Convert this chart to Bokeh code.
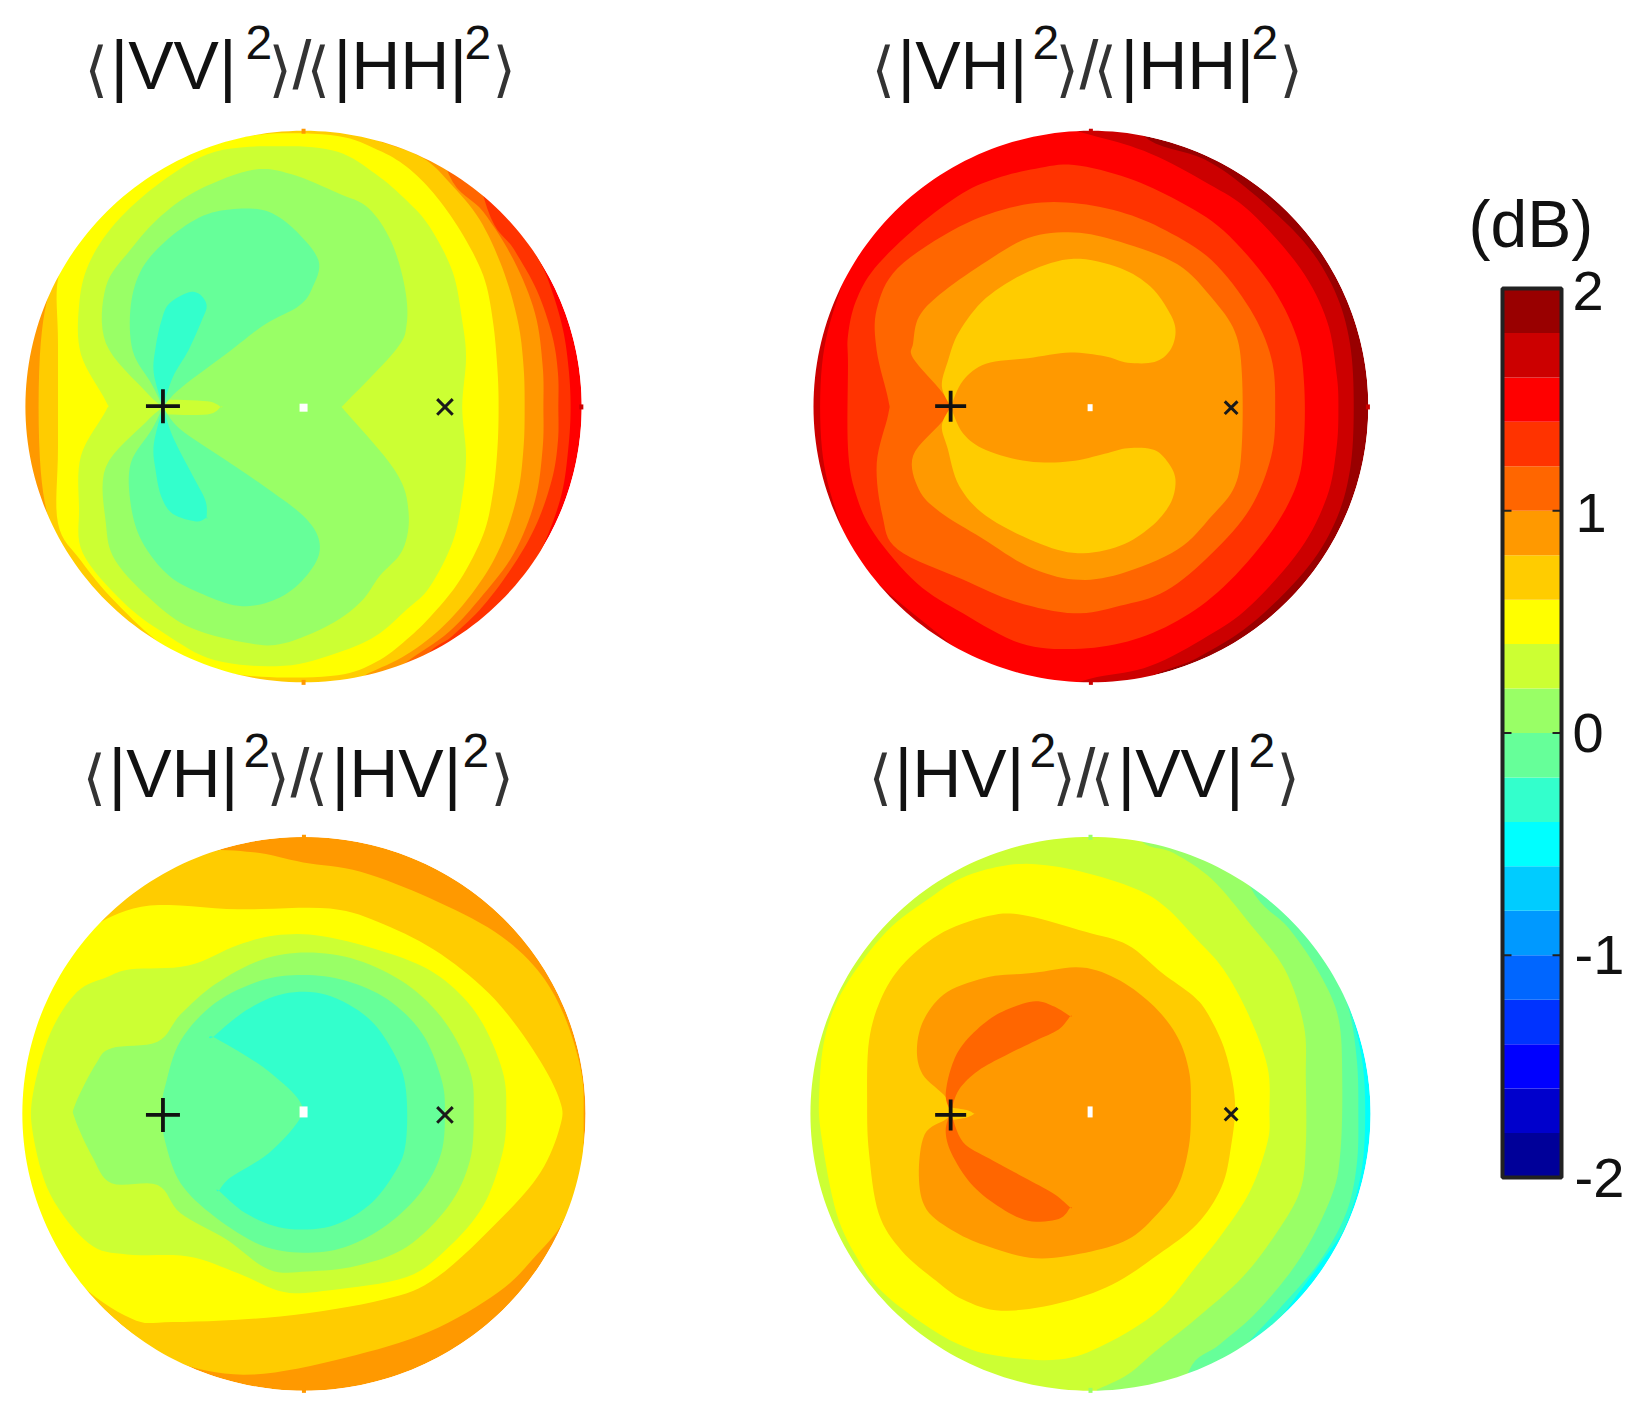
import numpy as np
from bokeh.plotting import figure
from bokeh.models import Range1d
from bokeh.core.properties import value
from bokeh.embed import file_html
from bokeh.resources import INLINE

# colour bands, lowest to highest dB (each 0.2 dB wide)
DB_EDGES = [-2.0,-1.8,-1.6,-1.4,-1.2,-1.0,-0.8,-0.6,-0.4,-0.2,0.0,0.2,0.4,0.6,0.8,1.0,1.2,1.4,1.6,1.8,2.0]
BAND_COLORS = ["#000099","#0000cc","#0000ff","#0033ff","#0066ff","#0099ff","#00ccff","#00ffff","#33ffcc","#66ff99",
               "#99ff66","#ccff33","#ffff00","#ffcc00","#ff9900","#ff6600","#ff3300","#ff0000","#cc0000","#990000"]
CB_TICKS = [-1, 0, 1]
CB_LABELS = ["2", "1", "0", "-1", "-2"]
CB_LABEL_DB = [1.99, 0.99, 0.0, -1.0, -2.0]

# Contour outlines. Each entry: (upper dB of the level, outline points)
P1_CONTOURS = [
 (1.4,[(20,-100),(1290,-100),(1330,250),(1380,350),(1425,440),(1465,570),(1482,680),(1488,790),(1482,900),(1465,1020),(1425,1140),(1375,1240),(1300,1320),(1240,1400),(1100,1700),(20,1700)]),
 (1.2,[(20,-100),(1180,-100),(1270,260),(1340,370),(1400,480),(1440,600),(1455,700),(1456,790),(1455,880),(1440,980),(1400,1100),(1340,1210),(1260,1320),(1180,1400),(1100,1470),(1000,1700),(20,1700)]),
 (1.0,[(20,-100),(1100,-100),(1170,170),(1260,270),(1340,400),(1395,540),(1415,680),(1417,790),(1415,900),(1395,1040),(1340,1180),(1260,1290),(1170,1390),(1060,1470),(1000,1530),(900,1700),(20,1700)]),
 (0.8,[(680,40),(900,45),(985,80),(1100,125),(1170,190),(1250,290),(1310,420),(1350,560),(1365,680),(1368,790),(1365,900),(1350,1020),(1310,1150),(1250,1260),(1160,1370),(1060,1450),(960,1500),(900,1530),(680,1535),(600,1510),(430,1440),(270,1310),(150,1150),(105,960),(105,620),(150,430),(270,280),(430,150),(600,75)]),
 (0.6,[(700,62),(880,68),(985,105),(1060,150),(1130,220),(1200,320),(1260,440),(1285,560),(1297,690),(1300,790),(1297,900),(1285,1020),(1260,1130),(1200,1250),(1130,1340),(1060,1410),(980,1470),(880,1505),(700,1510),(560,1490),(430,1430),(300,1310),(210,1200),(150,1100),(150,900),(150,620),(150,450),(200,350),(300,240),(430,145),(560,90)]),
 (0.4,[(560,110),(740,95),(880,110),(980,170),(1060,240),(1120,310),(1180,430),(1205,560),(1215,660),(1205,790),(1215,920),(1205,1030),(1180,1150),(1120,1270),(1060,1330),(980,1400),(880,1445),(740,1480),(560,1465),(430,1395),(320,1310),(215,1180),(205,1060),(210,920),(275,800),(275,775),(210,650),(205,520),(230,410),(300,300),(420,190)]),
 (0.2,[(660,158),(760,170),(880,220),(960,260),(1020,350),(1055,470),(1060,570),(1030,640),(890,790),(1030,960),(1065,1070),(1050,1170),(990,1240),(940,1310),(860,1370),(740,1420),(650,1420),(500,1380),(400,1310),(300,1200),(275,1100),(275,950),(380,830),(424,790),(380,750),(275,620),(275,470),(340,370),(420,280),(520,210)]),
 (0.4,[(424,770),(540,775),(575,790),(540,810),(424,810)]),
 (0.0,[(620,262),(700,270),(770,320),(830,400),(815,470),(780,520),(690,570),(600,640),(470,740),(424,790),(395,730),(345,640),(340,520),(370,420),(440,340),(530,280)]),
 (0.0,[(424,790),(470,850),(600,940),(700,1010),(790,1080),(830,1140),(825,1200),(770,1270),(700,1310),(620,1320),(530,1290),(440,1240),(370,1150),(340,1050),(340,940),(395,850)]),
 (-0.2,[(424,790),(450,710),(490,640),(525,560),(538,520),(520,490),(490,485),(440,515),(420,560),(405,630),(400,700)]),
 (-0.2,[(424,790),(400,890),(405,960),(420,1030),(450,1075),(510,1095),(538,1085),(535,1040),(500,970),(450,870)]),
]
P2_CONTOURS = [
 (1.8,[(-100,-100),(880,-100),(920,65),(1080,130),(1200,215),(1340,350),(1420,480),(1460,620),(1470,790),(1460,960),(1420,1100),(1340,1230),(1200,1370),(1060,1460),(920,1530),(880,1700),(-100,1700)]),
 (1.6,[(650,40),(800,70),(940,115),(1090,195),(1200,270),(1330,420),(1400,560),(1425,700),(1430,790),(1425,900),(1400,1030),(1330,1170),(1200,1320),(1090,1400),(940,1480),(800,1510),(650,1540),(500,1480),(380,1390),(190,1220),(120,1070),(82,900),(82,680),(120,510),(190,350),(350,190),(500,100)]),
 (1.4,[(640,155),(740,145),(880,180),(1010,240),(1130,320),(1250,460),(1320,600),(1340,720),(1340,880),(1320,1000),(1250,1130),(1130,1270),(1010,1360),(880,1415),(740,1435),(600,1420),(450,1340),(330,1260),(220,1130),(170,1020),(150,900),(150,680),(150,600),(170,510),(220,420),(330,310),(450,220),(540,180)]),
 (1.2,[(590,255),(720,245),(860,270),(980,320),(1100,400),(1200,530),(1255,660),(1265,790),(1255,920),(1200,1060),(1100,1180),(980,1280),(860,1320),(740,1340),(590,1310),(450,1250),(280,1170),(240,1080),(225,940),(255,810),(255,770),(225,640),(225,530),(280,420),(440,310)]),
 (1.0,[(620,340),(740,325),(860,350),(1010,410),(1100,500),(1160,590),(1178,700),(1178,890),(1160,1000),(1100,1080),(1010,1170),(860,1235),(740,1250),(620,1215),(500,1140),(390,1070),(335,1010),(320,920),(395,830),(418,790),(395,750),(320,660),(320,620),(335,550),(390,490),(500,410)]),
 (0.8,[(740,395),(860,420),(940,470),(990,540),(1005,590),(990,640),(950,670),(880,672),(820,655),(730,645),(620,660),(510,675),(450,720),(418,790),(395,735),(410,670),(440,590),(510,500),(620,430)]),
 (0.8,[(418,790),(450,860),(510,905),(620,935),(730,935),(820,915),(880,900),(950,905),(990,945),(1005,990),(990,1050),(940,1110),(860,1160),(750,1180),(640,1150),(510,1080),(440,1000),(410,900),(395,840)]),
]
P3_CONTOURS = [
 (0.8,[(520,100),(660,98),(790,125),(940,150),(1120,220),(1290,310),(1400,410),(1470,530),(1515,680),(1522,800),(1515,950),(1470,1080),(1400,1170),(1300,1270),(1120,1375),(900,1445),(660,1490),(480,1465),(380,1410),(200,1240),(60,1000),(30,790),(60,600),(190,350),(350,180)]),
 (0.6,[(190,350),(250,290),(390,240),(620,250),(860,248),(1000,290),(1150,370),(1290,490),(1400,640),(1460,760),(1460,830),(1410,950),(1310,1070),(1140,1230),(1000,1290),(730,1335),(450,1350),(340,1340),(190,1230),(20,1000),(20,600)]),
 (0.4,[(85,740),(130,580),(200,470),(280,430),(340,410),(490,400),(620,345),(730,318),(860,325),(1050,380),(1160,440),(1250,540),(1310,680),(1320,790),(1310,900),(1260,1040),(1170,1150),(1060,1230),(860,1265),(740,1270),(620,1220),(490,1175),(330,1170),(230,1140),(130,1010),(85,850)]),
 (0.2,[(195,770),(250,660),(290,620),(410,603),(470,530),(560,450),(680,385),(800,365),(930,385),(1060,450),(1160,550),(1225,680),(1235,790),(1225,920),(1170,1040),(1060,1150),(930,1200),(800,1215),(700,1210),(590,1130),(470,1060),(410,985),(290,980),(240,910),(195,810)]),
 (0.0,[(430,720),(470,600),(560,500),(680,440),(790,425),(900,440),(1010,490),(1100,580),(1150,700),(1160,790),(1150,900),(1100,1000),(1010,1090),(900,1150),(790,1165),(680,1145),(560,1070),(470,980),(430,870),(420,790)]),
 (-0.2,[(555,590),(640,520),(740,475),(850,478),(960,540),(1030,640),(1058,730),(1058,870),(1030,950),(960,1040),(860,1095),(740,1100),(640,1060),(570,1000),(600,965),(700,900),(780,810),(780,760),(710,690),(640,640)]),
]
P4_CONTOURS = [
 (-0.2,[(-100,-100),(1300,-100),(1400,370),(1450,480),(1490,640),(1500,790),(1490,950),(1450,1090),(1400,1170),(1300,1310),(1230,1420),(1150,1700),(-100,1700)]),
 (0.0,[(-100,-100),(1200,-100),(1300,240),(1400,390),(1455,510),(1478,650),(1482,790),(1478,930),(1450,1060),(1380,1190),(1280,1310),(1190,1410),(1130,1500),(1090,1700),(-100,1700)]),
 (0.2,[(-100,-100),(1100,-100),(1200,190),(1300,300),(1380,420),(1430,540),(1440,700),(1435,900),(1410,1020),(1330,1180),(1220,1320),(1120,1410),(1040,1480),(1000,1700),(-100,1700)]),
 (0.4,[(-100,-100),(880,-100),(910,60),(1000,100),(1100,170),(1200,290),(1290,410),(1340,560),(1345,700),(1345,880),(1330,1000),(1270,1110),(1180,1230),(1060,1340),(950,1430),(880,1490),(800,1530),(800,1700),(-100,1700)]),
 (0.6,[(550,135),(640,130),(760,150),(900,195),(980,245),(1060,330),(1130,410),(1195,530),(1245,670),(1250,790),(1245,870),(1200,1000),(1130,1110),(1060,1200),(960,1320),(820,1410),(700,1450),(540,1440),(440,1410),(340,1350),(240,1270),(180,1190),(120,1060),(80,850),(75,740),(90,590),(140,460),(250,310),(370,215),(450,165)]),
 (0.8,[(530,265),(620,268),(770,310),(880,345),(970,420),(1050,480),(1090,530),(1135,630),(1160,760),(1150,880),(1125,990),(1060,1090),(960,1170),(840,1250),(700,1300),(550,1320),(450,1290),(380,1240),(290,1160),(230,1060),(205,900),(200,770),(205,600),(240,480),(300,390),(400,310)]),
 (1.0,[(630,420),(760,405),(860,440),(950,510),(1010,590),(1040,680),(1045,770),(1040,880),(1010,990),(950,1070),(880,1130),(770,1165),(640,1180),(520,1150),(430,1110),(355,1050),(335,960),(350,850),(405,810),(418,790),(405,750),(345,690),(330,620),(350,540),(410,470),(520,430)]),
 (0.8,[(418,778),(460,785),(480,795),(460,805),(418,812)]),
 (1.2,[(405,745),(420,670),(450,610),(510,550),(570,515),(640,495),(690,510),(730,535),(700,570),(640,600),(560,640),(490,680),(440,730),(418,790)]),
 (1.2,[(418,790),(405,840),(420,900),(470,980),(540,1040),(620,1080),(700,1075),(730,1045),(690,1010),(620,970),(520,915),(450,870)]),
]

# top dB level of each disk's outermost band
P_BASE_TOP = [1.6, 2.0, 1.0, -0.4]
PANEL_CONTOURS = [P1_CONTOURS, P2_CONTOURS, P3_CONTOURS, P4_CONTOURS]
PANEL_ORIGIN_X = [0, 790, 0, 790]
PANEL_ORIGIN_Y = [110, 110, 815, 815]
DISK_CX = [791, 784, 792, 783]
DISK_CY = [789, 789, 795, 795]
DISK_RX = [726, 724, 735, 731]
DISK_RY = [735, 735, 738, 738]
PLUS_X = [424, 418, 424, 418]
PLUS_Y = [788, 788, 798, 798]
CROSS_X = [1160, 1150, 1160, 1150]
CROSS_Y = [790, 792, 798, 796]
DOT_X = [791, 782, 791, 782]
DOT_Y = [792, 792, 790, 790]
DOT_W = [8, 5, 8, 5]
DOT_H = [8, 7, 11, 11]
# small tips sticking out of the disks: panel, crop x, crop y, colour level
NUB_PANEL = [0, 0, 0, 1, 1, 1, 2, 2, 3, 3]
NUB_X = [791, 791, 1516, 784, 784, 1507, 792, 792, 783, 783]
NUB_Y = [55, 1524, 790, 55, 1524, 790, 58, 1532, 58, 1532]
NUB_TOP = [1.0, 1.0, 1.8, 1.8, 1.8, 1.8, 1.0, 1.0, 0.2, 0.2]

SX, SY = 2.61, 2.665

def to_x(cx, i): return PANEL_ORIGIN_X[i] + np.asarray(cx, float) / SX
def to_y(cy, i): return PANEL_ORIGIN_Y[i] + np.asarray(cy, float) / SY

def band_color(top):
    return BAND_COLORS[int(round((top + 2.0) / 0.2)) - 1]

def smooth(pts, n=8):
    """Closed Catmull-Rom through the read points; sharp vertices stay sharp."""
    pts = np.asarray(pts, float)
    m = len(pts)
    kept = []
    for k in range(m):
        a, b, c = pts[k-1], pts[k], pts[(k+1) % m]
        u, v = b-a, c-b
        cosang = np.dot(u, v) / (np.linalg.norm(u)*np.linalg.norm(v))
        kept.append(b)
        if cosang < 0.45:
            kept.append(b)
    q = np.array(kept)
    m = len(q)
    out = []
    ts = np.arange(n) / n
    for k in range(m):
        p0, p1, p2, p3 = q[k-1], q[k], q[(k+1) % m], q[(k+2) % m]
        for t in ts:
            out.append(0.5*((2*p1) + (p2-p0)*t + (2*p0-5*p1+4*p2-p3)*t*t + (3*p1-p0-3*p2+p3)*t**3))
    return np.array(out)

W, H = 1628, 1399
p = figure(width=W, height=H, x_range=Range1d(0, W), y_range=Range1d(H, 0),
           x_axis_type=None, y_axis_type=None, output_backend="svg", toolbar_location=None,
           min_border=0, outline_line_color=None, background_fill_color="white")
p.grid.visible = False

for i, contours in enumerate(PANEL_CONTOURS):
    p.ellipse(x=[to_x(DISK_CX[i], i)], y=[to_y(DISK_CY[i], i)],
              width=[2*DISK_RX[i]/SX], height=[2*DISK_RY[i]/SY],
              fill_color=band_color(P_BASE_TOP[i]), line_color=None)
    for top, pts in contours:
        s = smooth(pts)
        p.patch(np.clip(to_x(s[:, 0], i), 6, None), to_y(s[:, 1], i), fill_color=band_color(top), line_color=None)

# white surround, leaving the four disks open
t = np.linspace(0, 2*np.pi, 241)
rings_x, rings_y = [[-20, 1480, 1480, -20]], [[-20, -20, H+20, H+20]]
for i in range(4):
    rings_x.append(list(to_x(DISK_CX[i] + DISK_RX[i]*np.cos(t), i)))
    rings_y.append(list(to_y(DISK_CY[i] + DISK_RY[i]*np.sin(t), i)))
p.multi_polygons(xs=[[rings_x]], ys=[[rings_y]], fill_color="white", line_color=None)

p.rect(x=[to_x(a, i) for a, i in zip(NUB_X, NUB_PANEL)], y=[to_y(b, i) for b, i in zip(NUB_Y, NUB_PANEL)],
       width=4, height=5, fill_color=[band_color(v) for v in NUB_TOP], line_color=None)

# markers
p.rect(x=[to_x(DOT_X[i], i) for i in range(4)], y=[to_y(DOT_Y[i], i) for i in range(4)],
       width=DOT_W, height=DOT_H, fill_color="white", line_color=None)
p.scatter(x=[to_x(PLUS_X[i], i) for i in range(4)], y=[to_y(PLUS_Y[i], i) for i in range(4)],
          marker="cross", size=[34, 31, 34, 31], line_color="#111111", line_width=3.8, fill_color=None)
p.scatter(x=[to_x(CROSS_X[i], i) for i in range(4)], y=[to_y(CROSS_Y[i], i) for i in range(4)],
          marker="x", size=[22, 18, 22, 18], line_color="#1a1a1a", line_width=3, fill_color=None)

# colour bar on its own dB scale
CB_TOP, CB_BOT = 288, 1177
per_px = 4.0 / (CB_BOT - CB_TOP)
p.extra_y_ranges["db"] = Range1d(-2 - (H - CB_BOT)*per_px, 2 + CB_TOP*per_px)
p.quad(left=1502, right=1561, bottom=DB_EDGES[:-1], top=DB_EDGES[1:], fill_color=BAND_COLORS,
       line_color=None, y_range_name="db")
p.quad(left=[1502], right=[1561], bottom=[-2], top=[2], fill_color=None, line_color="#222222",
       line_width=4, y_range_name="db")
p.segment(x0=[1503]*3, x1=[1511]*3, y0=CB_TICKS, y1=CB_TICKS, line_color="#222222", line_width=2, y_range_name="db")
p.segment(x0=[1552]*3, x1=[1560]*3, y0=CB_TICKS, y1=CB_TICKS, line_color="#222222", line_width=2, y_range_name="db")
p.text(x=[1572, 1575, 1572, 1574, 1574], y=CB_LABEL_DB, text=CB_LABELS,
       text_font=value("Liberation Sans"), text_font_size="56px", text_color="#111111",
       text_align="left", text_baseline="middle", y_range_name="db")
p.text(x=[1468], y=[223], text=["(dB)"], text_font=value("Liberation Sans"), text_font_size="66px",
       text_color="#111111", text_align="left", text_baseline="middle")

# titles
TITLE_NUM = ["VV", "VH", "VH", "HV"]
TITLE_DEN = ["HH", "HH", "HV", "VV"]
TITLE_DX = [0, 787, -2, 784]
TITLE_DY = [0, 0, 708, 708]
for a, b, dx, dy in zip(TITLE_NUM, TITLE_DEN, TITLE_DX, TITLE_DY):
    p.text(x=[110+dx, 333+dx], y=[64+dy, 64+dy], text=[f"|{a}|", f"|{b}|"],
           text_font=value("Liberation Sans"), text_font_size="68px", text_color="#111111", text_baseline="alphabetic")
    p.text(x=[245+dx, 464+dx], y=[42+dy, 42+dy], text=["2", "2"],
           text_font=value("Liberation Sans"), text_font_size="48px", text_color="#111111", text_baseline="alphabetic")
    p.text(x=[292+dx], y=[64+dy], text=["/"],
           text_font=value("Liberation Sans"), text_font_size="68px", text_color="#333333", text_baseline="alphabetic")
    p.text(x=[84+dx, 306+dx, 268+dx, 492+dx], y=[68+dy]*4, text=["⟨", "⟨", "⟩", "⟩"],
           text_font=value("DejaVu Sans"), text_font_size="60px", text_color="#333333", text_baseline="alphabetic")

open("out.html", "w").write(file_html(p, INLINE))
